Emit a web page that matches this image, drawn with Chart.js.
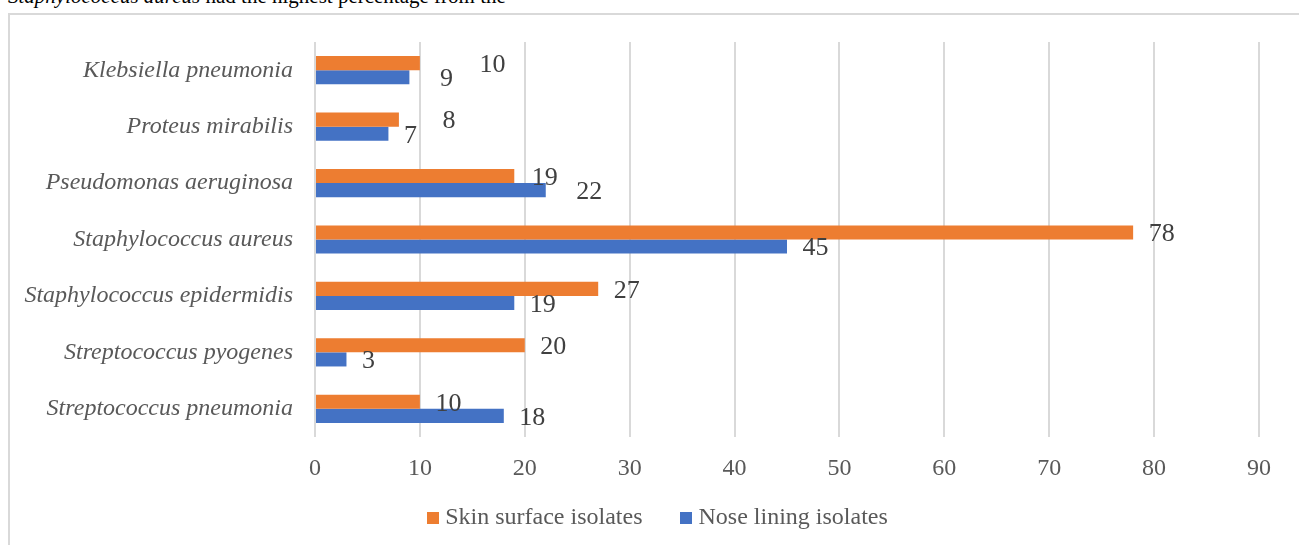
<!DOCTYPE html>
<html>
<head>
<meta charset="utf-8">
<script src="https://cdn.jsdelivr.net/npm/chart.js@4/dist/chart.umd.min.js"></script>
<style>
  html, body { margin: 0; padding: 0; background: #fff; width: 1299px; height: 545px; overflow: hidden; }
  #lead {
    position: absolute; left: 8px; top: -14px; white-space: nowrap;
    font-family: "Liberation Serif", "Times New Roman", serif; font-size: 21px; line-height: 21px; color: #000;
  }
  #frame {
    position: absolute; left: 8px; top: 13px; width: 1320px; height: 560px;
    border: 2px solid #d9d9d9; box-sizing: border-box;
  }
  #wrap { position: absolute; left: 0; top: 0; width: 1299px; height: 545px; }
</style>
</head>
<body>
<div id="lead"><i>Staphylococcus aureus</i> had the highest percentage from the</div>
<div id="frame"></div>
<div id="wrap"><canvas id="chart"></canvas></div>
<script>
// ===== DATA =====
const categories = [
  'Klebsiella pneumonia',
  'Proteus mirabilis',
  'Pseudomonas aeruginosa',
  'Staphylococcus aureus',
  'Staphylococcus epidermidis',
  'Streptococcus pyogenes',
  'Streptococcus pneumonia'
];
const skinSurface = [10, 8, 19, 78, 27, 20, 10];
const noseLining = [9, 7, 22, 45, 19, 3, 18];
const seriesNames = ['Skin surface isolates', 'Nose lining isolates'];
const xTicks = [0, 10, 20, 30, 40, 50, 60, 70, 80, 90];

// extra horizontal shift of some value labels (as placed in the original)
const skinLabelNudge = [44, 28, 2, 0, 0, 0, 0];
const noseLabelNudge = [15, 0, 15, 0, 0, 0, 0];

const FONT = '"Liberation Serif", "Times New Roman", serif';
const ORANGE = '#ED7D31';
const BLUE = '#4472C4';

// ===== PLUGINS =====
const valueLabels = {
  id: 'valueLabels',
  afterDatasetsDraw(chart) {
    const ctx = chart.ctx;
    const nudges = [skinLabelNudge, noseLabelNudge];
    ctx.save();
    ctx.font = '26px ' + FONT;
    ctx.fillStyle = '#404040';
    ctx.textAlign = 'left';
    ctx.textBaseline = 'middle';
    chart.data.datasets.forEach((ds, di) => {
      chart.getDatasetMeta(di).data.forEach((bar, i) => {
        ctx.fillText(String(ds.data[i]), bar.x + 15.5 + nudges[di][i], bar.y + 2);
      });
    });
    ctx.restore();
  }
};

const bottomLegend = {
  id: 'bottomLegend',
  afterDraw(chart) {
    const ctx = chart.ctx;
    const box = 12, gap = 6, spacing = 38, cy = 518, cx = 657.5;
    ctx.save();
    ctx.font = '24px ' + FONT;
    ctx.textBaseline = 'middle';
    ctx.textAlign = 'left';
    const items = chart.data.datasets.map(ds => ({ text: ds.label, color: ds.backgroundColor, w: ctx.measureText(ds.label).width }));
    let total = items.reduce((s, it) => s + box + gap + it.w, 0) + spacing * (items.length - 1);
    let x = cx - total / 2;
    items.forEach(it => {
      ctx.fillStyle = it.color;
      ctx.fillRect(Math.round(x), cy - 6, box, box);
      ctx.fillStyle = '#595959';
      ctx.fillText(it.text, x + box + gap, cy);
      x += box + gap + it.w + spacing;
    });
    ctx.restore();
  }
};

// ===== CHART =====
new Chart(document.getElementById('chart'), {
  type: 'bar',
  data: {
    labels: categories,
    datasets: [
      { label: seriesNames[0], data: skinSurface, backgroundColor: ORANGE },
      { label: seriesNames[1], data: noseLining, backgroundColor: BLUE }
    ]
  },
  options: {
    indexAxis: 'y',
    responsive: true,
    maintainAspectRatio: false,
    animation: false,
    devicePixelRatio: 1,
    layout: { padding: { top: 42, right: 40, left: 0, bottom: 0 } },
    datasets: { bar: { categoryPercentage: 0.5, barPercentage: 1.0, borderWidth: 0 } },
    plugins: {
      legend: { display: false },
      tooltip: { enabled: false }
    },
    scales: {
      x: {
        min: 0,
        max: 90,
        afterFit(scale) { scale.height = 108; },
        afterBuildTicks(scale) { scale.ticks = xTicks.map(v => ({ value: v })); },
        grid: { color: '#d9d9d9', lineWidth: 2, drawTicks: false, tickLength: 0 },
        border: { display: false },
        ticks: { color: '#595959', font: { family: FONT, size: 24 }, padding: 17 }
      },
      y: {
        afterFit(scale) { scale.width = 315; },
        grid: { display: false, drawTicks: false, tickLength: 0 },
        border: { display: false },
        ticks: { color: '#595959', font: { family: FONT, size: 24, style: 'italic' }, padding: 22 }
      }
    }
  },
  plugins: [valueLabels, bottomLegend]
});
</script>
</body>
</html>
